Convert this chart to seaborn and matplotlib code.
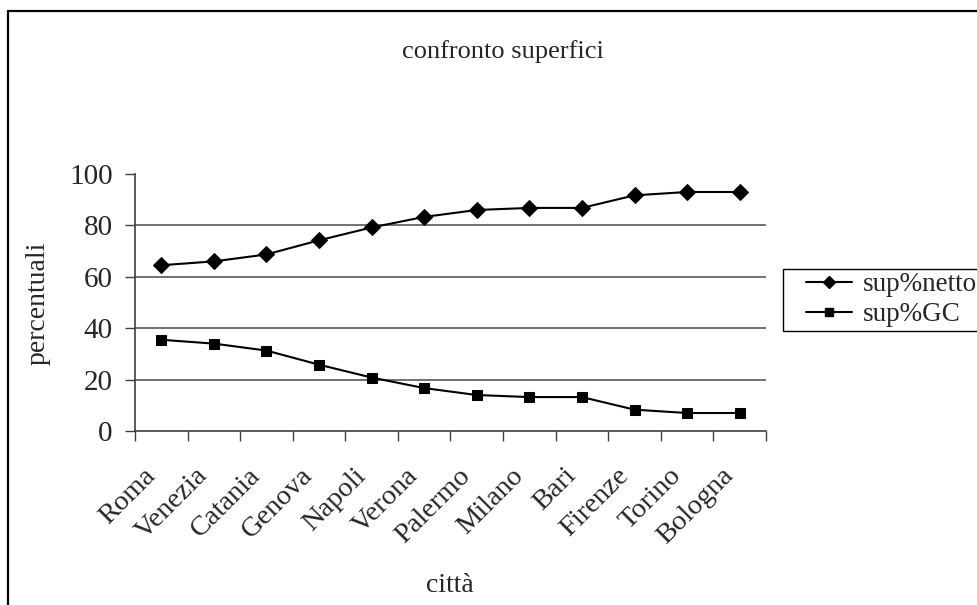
import matplotlib
matplotlib.use("Agg")
import matplotlib.pyplot as plt
from matplotlib.lines import Line2D
from matplotlib.patches import Rectangle
import matplotlib.transforms as mtransforms
import numpy as np
import pandas as pd
import seaborn as sns

# Cities and surface percentages
citta = ["Roma", "Venezia", "Catania", "Genova", "Napoli", "Verona",
         "Palermo", "Milano", "Bari", "Firenze", "Torino", "Bologna"]
sup_netto = [64.5, 66.0, 68.7, 74.2, 79.2, 83.3, 86.0, 86.8, 86.8, 91.7, 93.0, 93.0]
sup_gc = [35.5, 34.0, 31.3, 25.8, 20.8, 16.7, 14.0, 13.2, 13.2, 8.3, 7.0, 7.0]
serie = ["sup%netto", "sup%GC"]
y_ticks = [0, 20, 40, 60, 80, 100]

df = pd.DataFrame({"città": citta, serie[0]: sup_netto, serie[1]: sup_gc})
long = df.melt(id_vars="città", var_name="serie", value_name="valore")
long["pos"] = long["città"].map({c: i for i, c in enumerate(citta)})

sns.set_theme(style="white")
plt.rcParams["font.family"] = ["Liberation Serif", "DejaVu Serif"]

fig = plt.figure(figsize=(9.78, 6.05), dpi=100)
W, H = 978, 605
ax = fig.add_axes([135 / W, 1 - 431 / H, (766 - 135) / W, (431 - 174) / H])

sns.lineplot(data=long, x="pos", y="valore", hue="serie", style="serie",
             markers={"sup%netto": "D", "sup%GC": "s"}, dashes=False,
             palette={"sup%netto": "black", "sup%GC": "black"},
             linewidth=1.5, ax=ax, legend=False)
for line in ax.lines:
    line.set_markeredgecolor("black")
ax.lines[0].set_markersize(8)
ax.lines[1].set_markersize(7)

ax.set_xlim(-0.5, len(citta) - 0.5)
ax.set_ylim(0, 100)
ax.set_yticks(y_ticks)
ax.set_yticklabels([str(v) for v in y_ticks], fontsize=21)
for v in y_ticks[1:-1]:
    ax.axhline(v, color="#5a5a5a", linewidth=1.2, zorder=0)

# Category labels: rotated, ending just left of each category centre
ax.set_xticks(range(len(citta)))
ax.set_xticklabels([])
label_tr = ax.get_xaxis_transform() + mtransforms.ScaledTranslation(
    -10 / 100, -41 / 100, fig.dpi_scale_trans)
for i, name in enumerate(citta):
    ax.text(i, 0, name, transform=label_tr, fontsize=20.5, rotation=45,
            ha="right", va="center", rotation_mode="anchor", clip_on=False)
ax.set_xticks(np.arange(-0.5, len(citta), 1.0), minor=True)
ax.tick_params(axis="x", which="major", length=0)
ax.tick_params(axis="x", which="minor", length=7, width=1, color="#404040",
               direction="out", bottom=True)
ax.tick_params(axis="y", which="major", length=7, width=1, color="#404040",
               direction="out", left=True, pad=9)

for side in ["top", "right"]:
    ax.spines[side].set_visible(False)
for side in ["left", "bottom"]:
    ax.spines[side].set_color("#404040")
    ax.spines[side].set_linewidth(1.2)

ax.set_xlabel("")
ax.set_ylabel("")
fig.text(38 / W, 1 - 303 / H, "percentuali", rotation=90, fontsize=20,
         ha="center", va="center")
fig.text(450 / W, 1 - 585 / H, "città", fontsize=20, ha="center", va="center")
fig.text(503 / W, 1 - 52 / H, "confronto superfici", fontsize=19,
         ha="center", va="center")

# Legend: frame drawn separately, entries placed inside it
fig.add_artist(Rectangle((783 / W, 1 - 331 / H), 220 / W, 62 / H,
                         transform=fig.transFigure, facecolor="white",
                         edgecolor="black", linewidth=1.0, zorder=5))
handles = [
    Line2D([0], [0], color="black", lw=1.5, marker="D", markersize=6),
    Line2D([0], [0], color="black", lw=1.5, marker="s", markersize=6),
]
leg = fig.legend(handles, serie, loc="upper left",
                 bbox_to_anchor=(806 / W, 1 - 272 / H), borderaxespad=0,
                 fontsize=19.5, frameon=False, handlelength=1.7,
                 handletextpad=0.4, labelspacing=0.2, borderpad=0.0)
leg.set_zorder(6)

# Chart border (top and left edges visible)
fig.add_artist(Line2D([8 / W, 1.01], [1 - 11 / H, 1 - 11 / H],
                      transform=fig.transFigure, color="black", lw=1.6))
fig.add_artist(Line2D([8 / W, 8 / W], [1 - 11 / H, -0.01],
                      transform=fig.transFigure, color="black", lw=1.6))

fig.savefig("out.png", dpi=100, facecolor="white")
